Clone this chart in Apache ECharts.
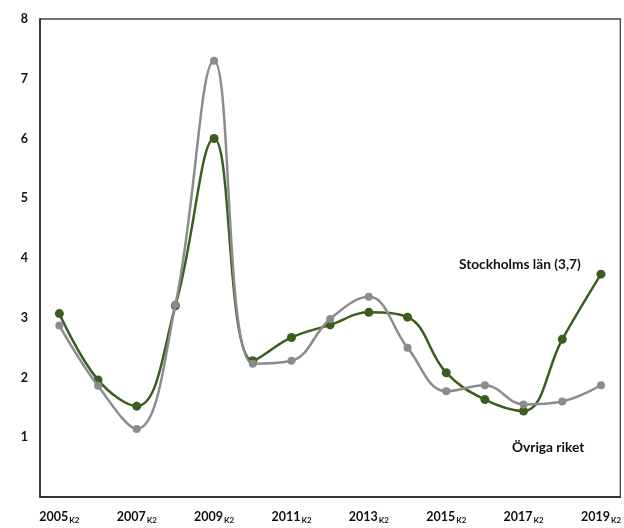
<!DOCTYPE html>
<html>
<head>
<meta charset="utf-8">
<script src="https://cdn.jsdelivr.net/npm/echarts@6/dist/echarts.min.js"></script>
<style>
html,body{margin:0;padding:0;background:#fff;}
#c{width:624px;height:528px;}
</style>
</head>
<body>
<div id="c"></div>
<script>
var years = ['2005','2006','2007','2008','2009','2010','2011','2012','2013','2014','2015','2016','2017','2018','2019'];
var stockholm = [3.07,1.96,1.52,3.2,6.0,2.28,2.67,2.88,3.09,3.01,2.08,1.63,1.44,2.64,3.73];
var ovriga = [2.87,1.86,1.14,3.22,7.30,2.23,2.28,2.98,3.35,2.50,1.77,1.87,1.55,1.60,1.87];
var yTicks = [0,1,2,3,4,5,6,7,8];
var labelStockholm = 'Stockholms län (3,7)';
var labelOvriga = 'Övriga riket';

var FONT = 'Lato';
var chart = echarts.init(document.getElementById('c'), null, {renderer:'canvas'});
chart.setOption({
  animation:false,
  backgroundColor:'#fff',
  grid:{left:40,right:3,top:19,bottom:31,show:true,borderColor:'#444',borderWidth:1.3,backgroundColor:'transparent'},
  xAxis:{
    type:'category',
    data:years,
    boundaryGap:true,
    axisTick:{show:false},
    axisLine:{show:true,lineStyle:{color:'#222',width:1.5}},
    axisLabel:{
      interval:1,
      margin:13,
      formatter:function(v){return '{a|'+v+'}{b|K2}';},
      rich:{
        a:{fontFamily:FONT,fontWeight:'bold',fontSize:12.5,color:'#111'},
        b:{fontFamily:FONT,fontWeight:'bold',fontSize:8,color:'#111',padding:[6,0,0,1]}
      }
    },
    splitLine:{show:false}
  },
  yAxis:{
    type:'value',
    min:yTicks[0],
    max:yTicks[yTicks.length-1],
    interval:1,
    axisLine:{show:true,lineStyle:{color:'#222',width:1.5}},
    axisTick:{show:false},
    splitLine:{show:false},
    axisLabel:{
      margin:12,
      fontFamily:FONT,fontWeight:'bold',fontSize:12.5,color:'#111',
      formatter:function(v){return v===0?'':String(v);}
    }
  },
  series:[
    {
      name:'Stockholms län',
      type:'line',
      data:stockholm,
      smooth:0.4,
      symbol:'circle',
      symbolSize:9,
      lineStyle:{color:'#3b5e1f',width:2.5},
      itemStyle:{color:'#3b5e1f'},
      z:2
    },
    {
      name:'Övriga riket',
      type:'line',
      data:ovriga,
      smooth:0.4,
      symbol:'circle',
      symbolSize:8,
      lineStyle:{color:'#8c8c8c',width:2.5},
      itemStyle:{color:'#8c8c8c'},
      z:3
    }
  ],
  graphic:[
    {type:'text',left:459,top:258,style:{text:labelStockholm,fontFamily:FONT,fontWeight:'bold',fontSize:13.7,fill:'#111'}},
    {type:'text',left:512,top:441,style:{text:labelOvriga,fontFamily:FONT,fontWeight:'bold',fontSize:13.7,fill:'#111'}}
  ]
});
</script>
</body>
</html>
